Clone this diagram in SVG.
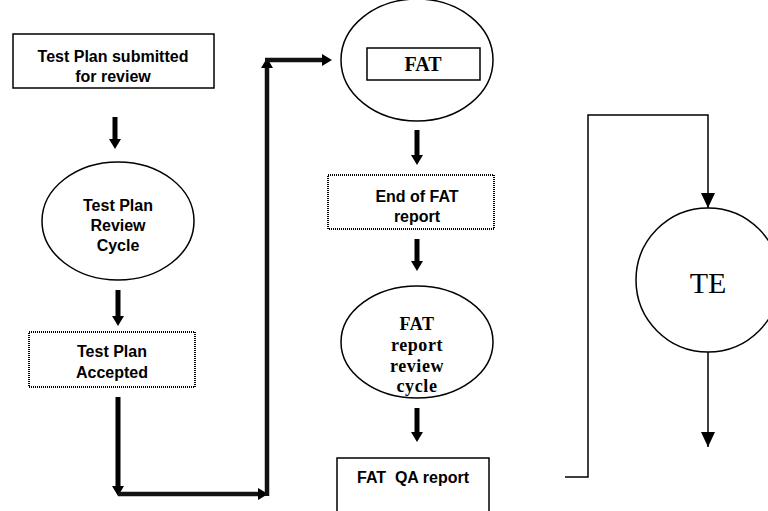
<svg xmlns="http://www.w3.org/2000/svg" width="768" height="511" viewBox="0 0 768 511">
<style>
.box{fill:#fff;stroke:#000;stroke-width:1.5}
.dot{fill:#fff;stroke:#000;stroke-width:2;stroke-dasharray:1 1}
.ell{fill:#fff;stroke:#000;stroke-width:1.5}
.sans{font-family:"Liberation Sans",Arial,sans-serif;font-weight:bold;font-size:16px;text-anchor:middle;fill:#000}
.serifb{font-family:"Liberation Serif","Times New Roman",serif;font-weight:bold;font-size:20px;text-anchor:middle;fill:#000}
.serifs{font-family:"Liberation Serif","Times New Roman",serif;font-weight:bold;font-size:18px;letter-spacing:0.6px;text-anchor:middle;fill:#000}
.serif{font-family:"Liberation Serif","Times New Roman",serif;font-size:30px;text-anchor:middle;fill:#000}
.thick{stroke:#000;stroke-width:5;fill:none}
.conn{stroke:#111;stroke-width:4.5;fill:none}
.thin{stroke:#000;stroke-width:1.5;fill:none}
</style>
<defs>
<marker id="hb" markerUnits="userSpaceOnUse" markerWidth="10" markerHeight="12" refX="0" refY="6" orient="auto" viewBox="0 0 10 12">
<path d="M0,0 L10,6 L0,12 z" fill="#000"/>
</marker>
<marker id="ht" markerUnits="userSpaceOnUse" markerWidth="15" markerHeight="14" refX="15" refY="7" orient="auto" viewBox="0 0 15 14">
<path d="M0,0 L15,7 L0,14 z" fill="#000"/>
</marker>
</defs>

<g id="connectors">
<line class="thick" x1="115" y1="117" x2="115" y2="139" marker-end="url(#hb)"/>
<line class="thick" x1="118" y1="290" x2="118" y2="316" marker-end="url(#hb)"/>
<line class="thick" x1="118" y1="397" x2="118" y2="486" marker-end="url(#hb)"/>
<line class="conn" x1="118" y1="494" x2="258" y2="494" marker-end="url(#hb)"/>
<line class="conn" x1="267" y1="496" x2="267" y2="68" marker-end="url(#hb)"/>
<line class="conn" x1="265" y1="60" x2="322" y2="60" marker-end="url(#hb)"/>
<line class="thick" x1="417" y1="130" x2="417" y2="155" marker-end="url(#hb)"/>
<line class="thick" x1="417" y1="239" x2="417" y2="261" marker-end="url(#hb)"/>
<line class="thick" x1="417" y1="408" x2="417" y2="432" marker-end="url(#hb)"/>
<polyline class="thin" points="565,477 588,477 588,115 708,115 708,208" marker-end="url(#ht)"/>
<line class="thin" x1="708" y1="351" x2="708" y2="447" marker-end="url(#ht)"/>
</g>

<g id="n1">
<rect class="box" x="13" y="34" width="201" height="54"/>
<text class="sans" x="113" y="62">Test Plan submitted</text>
<text class="sans" x="113" y="82">for review</text>
</g>

<g id="n2">
<ellipse class="ell" cx="118" cy="221" rx="76" ry="59"/>
<text class="sans" x="118" y="211">Test Plan</text>
<text class="sans" x="118" y="231">Review</text>
<text class="sans" x="118" y="251">Cycle</text>
</g>

<g id="n3">
<rect class="dot" x="29" y="332" width="166" height="55"/>
<text class="sans" x="112" y="357">Test Plan</text>
<text class="sans" x="112" y="378">Accepted</text>
</g>

<g id="n4">
<ellipse class="ell" cx="417" cy="60" rx="76" ry="61"/>
<rect class="box" x="367" y="48" width="113" height="32"/>
<text class="serifb" x="423" y="71">FAT</text>
</g>

<g id="n5">
<rect class="dot" x="328" y="175" width="166" height="54"/>
<text class="sans" x="417" y="202">End of FAT</text>
<text class="sans" x="417" y="222">report</text>
</g>

<g id="n6">
<ellipse class="ell" cx="417" cy="342" rx="76" ry="56"/>
<text class="serifs" x="417" y="330">FAT</text>
<text class="serifs" x="417" y="351">report</text>
<text class="serifs" x="417" y="372">review</text>
<text class="serifs" x="417" y="392">cycle</text>
</g>

<g id="n7">
<rect class="box" x="337" y="458" width="152" height="60"/>
<text class="sans" x="413" y="483" xml:space="preserve">FAT  QA report</text>
</g>

<g id="n8">
<circle class="ell" cx="708" cy="280" r="72"/>
<text class="serif" x="708" y="293">TE</text>
</g>
</svg>
